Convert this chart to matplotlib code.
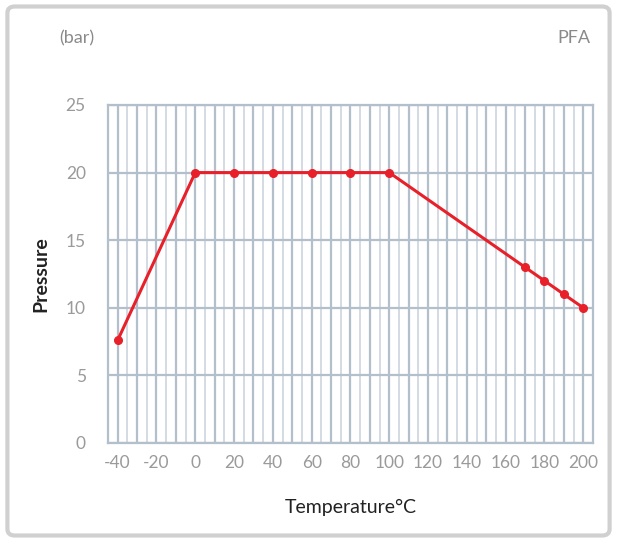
import matplotlib.pyplot as plt
from matplotlib.patches import FancyBboxPatch

temperature = [-40, 0, 20, 40, 60, 80, 100, 170, 180, 190, 200]
pressure = [7.6, 20, 20, 20, 20, 20, 20, 13, 12, 11, 10]
x_ticks = [-40, -20, 0, 20, 40, 60, 80, 100, 120, 140, 160, 180, 200]
y_ticks = [0, 5, 10, 15, 20, 25]

plt.rcParams['font.family'] = ['Lato', 'DejaVu Sans']
plt.rcParams['axes.unicode_minus'] = False

fig = plt.figure(figsize=(6.17, 5.42), dpi=100)

# rounded card frame
card = FancyBboxPatch((0.012, 0.012), 0.976, 0.976, boxstyle='round,pad=0,rounding_size=0.012',
                      transform=fig.transFigure, facecolor='white', edgecolor='#d0d0d0',
                      linewidth=3, zorder=-1)
fig.patches.append(card)

ax = fig.add_axes([0.175, 0.1827, 0.786, 0.6236])
ax.set_xlim(-45, 205)
ax.set_ylim(0, 25)

# grid
for x in range(-40, 205, 10):
    ax.axvline(x, color='#b3bfca', lw=1.6, zorder=1)
for x in range(-35, 205, 10):
    ax.axvline(x, color='#d3dae2', lw=1.4, zorder=1)
for y in y_ticks:
    ax.axhline(y, color='#b3bfca', lw=1.6, zorder=1)
for s in ax.spines.values():
    s.set_color('#b3bfca')
    s.set_linewidth(1.6)

ax.plot(temperature, pressure, color='#e8202a', lw=2.2, marker='o', markersize=5.5, zorder=3,
        clip_on=False)

ax.set_xticks(x_ticks)
ax.set_yticks(y_ticks)
ax.tick_params(length=0, colors='#9a9a9a', labelsize=12.5, pad=9)
ax.tick_params(axis='y', pad=16)

ax.set_xlabel('Temperature°C', fontsize=14, color='#222222', labelpad=20)
ax.set_ylabel('Pressure', fontsize=14, color='#222222', labelpad=12, fontweight='bold')

fig.text(0.125, 0.93, '(bar)', fontsize=13, color='#8a8a8a', ha='center', va='center')
fig.text(0.957, 0.93, 'PFA', fontsize=13, color='#8a8a8a', ha='right', va='center')

fig.savefig('out.png', dpi=100)
